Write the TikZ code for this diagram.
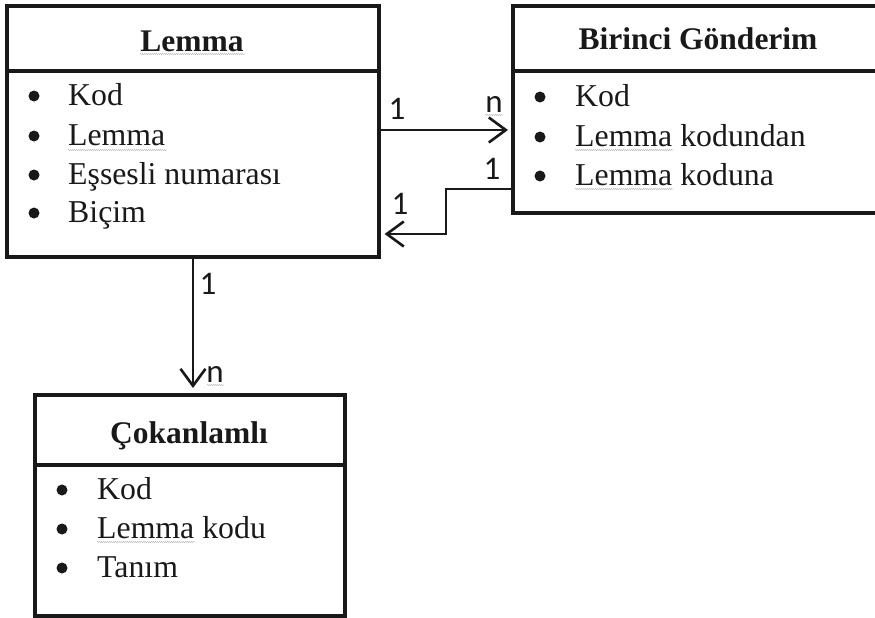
\documentclass[tikz,border=0pt]{standalone}
\usepackage{fontspec}
\setmainfont{Liberation Serif}
\newfontfamily\lblfont{Carlito}
\usetikzlibrary{arrows.meta,decorations.pathmorphing}
\begin{document}
\begin{tikzpicture}[x=1pt,y=1pt,
  box/.style={draw=black!90, line width=3.6pt, inner sep=0pt, anchor=north west},
  sepline/.style={line width=3.6pt, draw=black!90},
  conn/.style={line width=2.6pt, draw=black!90, line join=miter,
    -{Straight Barb[length=17pt,width=25pt,line width=2.6pt]}},
  ttl/.style={font=\bfseries\fontsize{31.5}{31.5}\selectfont, anchor=base, inner sep=0pt, text=black!90},
  itm/.style={font=\fontsize{31.8}{31.8}\selectfont, anchor=base west, inner sep=0pt, text=black!90},
  bul/.style={circle, fill=black!90, inner sep=0pt, minimum size=11pt},
  lbl/.style={font=\lblfont\fontsize{33}{33}\selectfont, inner sep=0pt, text=black!90},
  squig/.style={draw=gray!50, line width=0.5pt, decorate,
    decoration={snake, amplitude=0.6pt, segment length=2pt}}
]
\useasboundingbox (0,0) rectangle (875,-618);
\clip (0,0) rectangle (875,-618);

% boxes
\node[box, minimum width=372pt, minimum height=251pt] (lemma) at (5,-4) {};
\node[box, minimum width=380pt, minimum height=207pt] (birinci) at (511,-4) {};
\node[box, minimum width=310pt, minimum height=221pt] (cok) at (33,-393) {};

% dividers
\coordinate (d1) at (0,-71);
\coordinate (d2) at (0,-465);
\draw[sepline] (lemma.west |- d1) -- (lemma.east |- d1);
\draw[sepline] (birinci.west |- d1) -- (birinci.east |- d1);
\draw[sepline] (cok.west |- d2) -- (cok.east |- d2);

% Lemma box texts
\node[ttl] (lemmaT) at (192,-52) {Lemma};
\node[bul] (lb1) at (34,-96) {};
\node[bul] (lb2) at (34,-136) {};
\node[bul] (lb3) at (34,-175) {};
\node[bul] (lb4) at (34,-213) {};
\node[itm] (li1) at (68,-105) {Kod};
\node[itm] (li2) at (68,-145) {Lemma};
\node[itm] (li3) at (68,-184) {Eşsesli numarası};
\node[itm] (li4) at (68,-222) {Biçim};

% Birinci Gonderim texts
\node[ttl] (birT) at (698,-50) {Birinci Gönderim};
\node[bul] (bb1) at (540,-97) {};
\node[bul] (bb2) at (540,-137) {};
\node[bul] (bb3) at (540,-176) {};
\node[itm] (bi1) at (575,-106) {Kod};
\node[itm] (bi2) at (575,-146) {Lemma kodundan};
\node[itm] (bi3) at (575,-185) {Lemma koduna};

% Cokanlamli texts
\node[ttl] (cokT) at (189,-443) {Çokanlamlı};
\node[bul] (cb1) at (62,-490) {};
\node[bul] (cb2) at (62,-529) {};
\node[bul] (cb3) at (62,-568) {};
\node[itm] (ci1) at (97,-499) {Kod};
\node[itm] (ci2) at (97,-538) {Lemma kodu};
\node[itm] (ci3) at (97,-577) {Tanım};

% spell-check squiggles
\draw[squig] (140,-54) -- (245,-54);
\draw[squig] (68,-150) -- (167,-150);
\draw[squig] (575,-150) -- (673,-150);
\draw[squig] (575,-189) -- (673,-189);
\draw[squig] (97,-542) -- (195,-542);
\draw[squig] (485,-115) -- (503,-115);
\draw[squig] (207,-385) -- (224,-385);

% connectors
\coordinate (h1) at (0,-130);
\draw[conn, shorten >=3pt] (lemma.east |- h1) -- (birinci.west |- h1);
\coordinate (r1) at (0,-189);
\coordinate (r2) at (446,-234);
\draw[conn, shorten >=4pt] (birinci.west |- r1) -| (r2) -- (lemma.east |- r2);
\coordinate (v) at (193,0);
\draw[conn, shorten >=5pt] (lemma.south -| v) -- (cok.north -| v);

% cardinality labels
\node[lbl] (c1) at (397,-109) {1};
\node[lbl] (c2) at (494,-104) {n};
\node[lbl] (c3) at (492,-169) {1};
\node[lbl] (c4) at (400,-204) {1};
\node[lbl] (c5) at (208,-284) {1};
\node[lbl] (c6) at (215,-374) {n};
\end{tikzpicture}
\end{document}
